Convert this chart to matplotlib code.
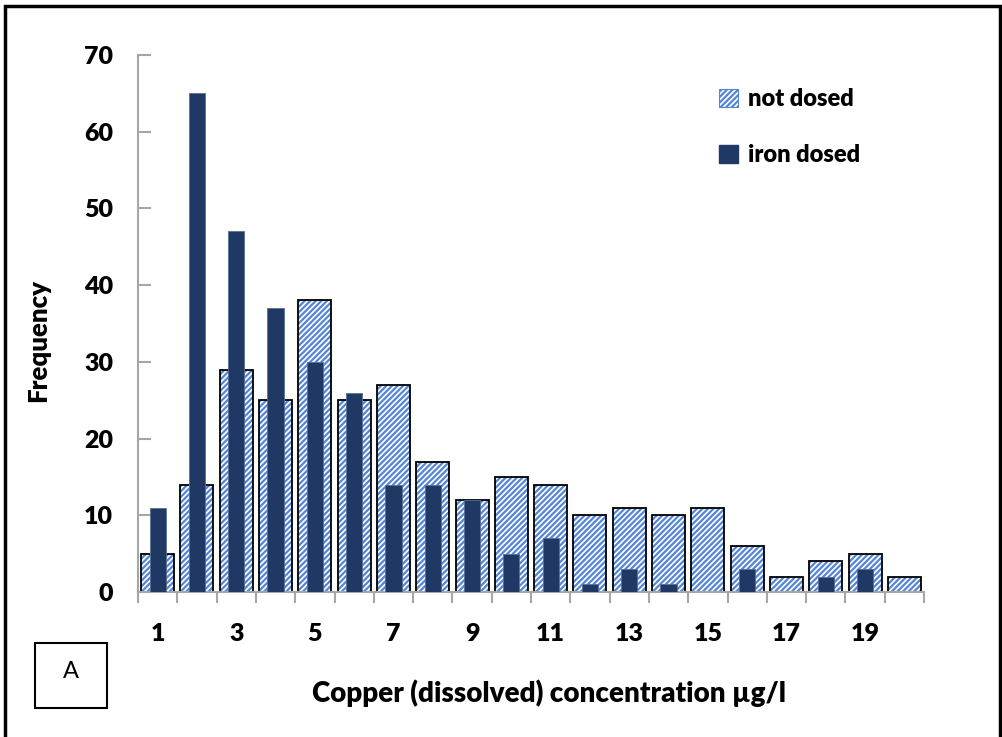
import numpy as np
import matplotlib.pyplot as plt
from matplotlib.patches import Patch, Rectangle

# frequency of dissolved copper readings per 1 ug/l band
bands = list(range(1, 21))
not_dosed = [5, 14, 29, 25, 38, 25, 27, 17, 12, 15, 14, 10, 11, 10, 11, 6, 2, 4, 5, 2]
iron_dosed = [11, 65, 47, 37, 30, 26, 14, 14, 12, 5, 7, 1, 3, 1, 0, 3, 0, 2, 3, 0]
y_ticks = [0, 10, 20, 30, 40, 50, 60, 70]
x_labels = [1, 3, 5, 7, 9, 11, 13, 15, 17, 19]

HATCH_BLUE = '#5485d6'
NAVY = '#1f3864'
AXIS_GREY = '#a6a6a6'
WEIGHT = 800

plt.rcParams['font.family'] = ['Lato', 'DejaVu Sans']
plt.rcParams['hatch.linewidth'] = 1.6

fig = plt.figure(figsize=(10.02, 7.37), dpi=100)
ax = fig.add_axes([138 / 1002, 1 - 592 / 737, (924 - 138) / 1002, (592 - 55) / 737])

x = np.array(bands)
# hatch takes the edge colour, so fill and outline are drawn as two layers
ax.bar(x, not_dosed, width=0.84, color='white', edgecolor=HATCH_BLUE,
       linewidth=0, hatch='//////', zorder=2)
ax.bar(x, not_dosed, width=0.84, fill=False, edgecolor='black', linewidth=1.3, zorder=2.5)
ax.bar(x, iron_dosed, width=0.41, color=NAVY, edgecolor='#5a6f96',
       linewidth=0.6, zorder=3)

ax.set_xlim(0.5, 20.5)
ax.set_ylim(0, 70)
ax.set_yticks(y_ticks)
ax.set_xticks(x_labels)
ax.set_xticks(np.arange(0.5, 21.0, 1.0), minor=True)
ax.tick_params(axis='x', which='major', length=0, pad=22, labelsize=18)
ax.tick_params(axis='x', which='minor', length=8, width=1.5, color=AXIS_GREY, direction='out')
ax.tick_params(axis='y', which='major', length=9, width=1.5, color=AXIS_GREY,
               direction='in', pad=18, labelsize=18)
for lab in ax.get_xticklabels() + ax.get_yticklabels():
    lab.set_fontweight(WEIGHT)

for side in ['top', 'right']:
    ax.spines[side].set_visible(False)
for side in ['left', 'bottom']:
    ax.spines[side].set_color(AXIS_GREY)
    ax.spines[side].set_linewidth(1.5)

fig.text(38 / 1002, 1 - 340 / 737, 'Frequency', rotation=90, ha='center', va='center',
         fontsize=18.5, fontweight=WEIGHT)
fig.text(549 / 1002, 1 - 693 / 737, 'Copper (dissolved) concentration µg/l',
         ha='center', va='center', fontsize=20, fontweight=WEIGHT)

handles = [Patch(facecolor='white', edgecolor=HATCH_BLUE, hatch='//////', linewidth=0.8, label='not dosed'),
           Patch(facecolor=NAVY, edgecolor=NAVY, label='iron dosed')]
leg = fig.legend(handles=handles, loc='upper left', bbox_to_anchor=(698 / 1002, 1 - 67 / 737),
                 frameon=False, handlelength=0.8, handleheight=0.8, handletextpad=0.4,
                 labelspacing=1.45, prop={'size': 17, 'weight': WEIGHT})

# panel tag box
fig.patches.append(Rectangle((35 / 1002, 1 - 708 / 737), 72 / 1002, 65 / 737,
                             transform=fig.transFigure, fill=False, edgecolor='black', linewidth=1.5))
fig.text(71 / 1002, 1 - 672 / 737, 'A', ha='center', va='center', fontsize=17)

# outer frame
fig.patches.append(Rectangle((5 / 1002, -0.05), 995 / 1002, 1.05 - 6 / 737,
                             transform=fig.transFigure, fill=False, edgecolor='black', linewidth=2.5))

fig.savefig('out.png', dpi=100)
